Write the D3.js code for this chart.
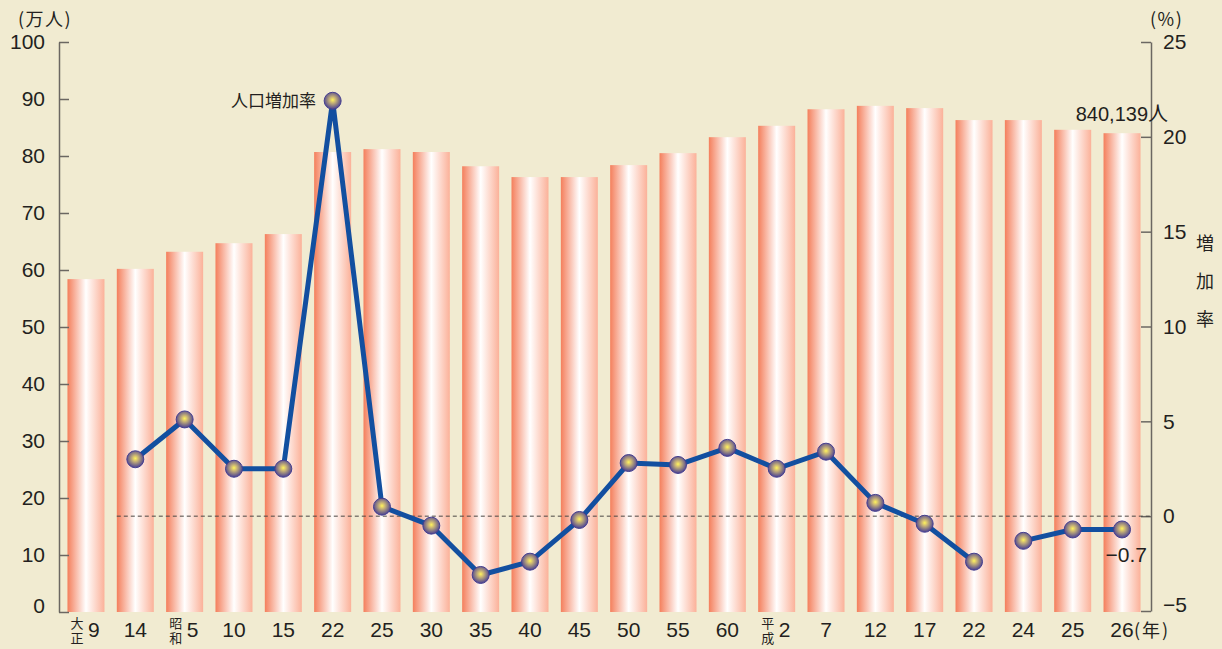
<!DOCTYPE html>
<html>
<head>
<meta charset="utf-8">
<script src="https://cdn.jsdelivr.net/npm/d3@7"></script>
<style>
  body { margin: 0; background: #f1ebd1; }
  svg { display: block; }
  text { font-family: "Liberation Sans", "Noto Sans CJK JP", sans-serif; fill: #231f20; }
</style>
</head>
<body>
<svg class="chart"></svg>
<script>
const W = 1222;
const H = 649;

// Data
var categories = ["大正9","大正14","昭和5","昭和10","昭和15","昭和22","昭和25","昭和30","昭和35","昭和40","昭和45",
                  "昭和50","昭和55","昭和60","平成2","平成7","平成12","平成17","平成22","平成24","平成25","平成26"];
var eraMarks   = ["大正","","昭和","","","","","","","","","","","","平成","","","","","","",""];
var yearLabels = ["9","14","5","10","15","22","25","30","35","40","45","50","55","60","2","7","12","17","22","24","25","26"];
var population = [58.4,60.2,63.2,64.7,66.3,80.7,81.2,80.7,78.2,76.3,76.3,78.4,80.5,83.3,85.3,88.2,88.8,88.4,86.3,86.3,84.6,84.0]; // 万人
var growthRate = [null,3.0,5.1,2.5,2.5,21.9,0.5,-0.5,-3.1,-2.4,-0.2,2.8,2.7,3.6,2.5,3.4,0.7,-0.4,-2.4,-1.3,-0.7,-0.7]; // %
var rateBreakAfter = "平成22";
var leftTicks  = [0,10,20,30,40,50,60,70,80,90,100];
var rightTicks = [-5,0,5,10,15,20,25];

var svg = d3.select('.chart')
    .attr("width", W)
    .attr("height", H);

var defs = svg.append("defs");
var grad = defs.append("linearGradient").attr("id", "barGrad")
    .attr("x1", "0%").attr("x2", "100%").attr("y1", "0%").attr("y2", "0%");
grad.append("stop").attr("offset", "0%").attr("stop-color", "#f47f5c");
grad.append("stop").attr("offset", "50%").attr("stop-color", "#ffffff");
grad.append("stop").attr("offset", "100%").attr("stop-color", "#fbb199");

var rg = defs.append("radialGradient").attr("id", "dotGrad")
    .attr("cx", "50%").attr("cy", "45%").attr("r", "55%");
rg.append("stop").attr("offset", "0%").attr("stop-color", "#fff45c");
rg.append("stop").attr("offset", "30%").attr("stop-color", "#cdb874");
rg.append("stop").attr("offset", "100%").attr("stop-color", "#463d94");

// Scales
var x = d3.scaleBand()
    .domain(categories)
    .range([61.3, 1146.7])
    .paddingInner(0.25)
    .paddingOuter(0.125);
var yL = d3.scaleLinear().domain([0, 100]).range([612, 42]);
var yR = d3.scaleLinear().domain([-5, 25]).range([611, 42]);

// Bars
svg.append("g").selectAll("rect")
    .data(categories)
    .enter().append("rect")
    .attr("x", d => x(d))
    .attr("width", x.bandwidth())
    .attr("y", (d, i) => yL(population[i]))
    .attr("height", (d, i) => yL(0) - yL(population[i]))
    .attr("fill", "url(#barGrad)");

// Axes
function fmt(d) { return d < 0 ? "\u2212" + Math.abs(d) : d; }

var axL = svg.append("g")
    .attr("transform", "translate(59,0)")
    .call(d3.axisLeft(yL).tickValues(leftTicks).tickSizeInner(-10).tickSizeOuter(0).tickPadding(14));
var axR = svg.append("g")
    .attr("transform", "translate(1151,0)")
    .call(d3.axisRight(yR).tickValues(rightTicks).tickFormat(fmt).tickSizeInner(-10).tickSizeOuter(0).tickPadding(12));
[axL, axR].forEach(function(a) {
    a.select(".domain").attr("stroke", "#6b6762").attr("stroke-width", 1.5);
    a.selectAll(".tick line").attr("stroke", "#6b6762").attr("stroke-width", 1.5);
    a.selectAll(".tick text").style("font-size", "21px").style("fill", "#231f20")
        .style("font-family", "'Liberation Sans', sans-serif");
});
// bottom labels sit a little above the end of the axis
axL.selectAll(".tick text").filter(d => d === 0).attr("dy", "-0.0em");
axR.selectAll(".tick text").filter(d => d === -5).attr("dy", "-0.0em");

// Zero line
svg.append("line")
    .attr("x1", x("大正14")).attr("x2", 1151)
    .attr("y1", yR(0)).attr("y2", yR(0))
    .attr("stroke", "#4a4744").attr("stroke-width", 1)
    .attr("stroke-dasharray", "4,3");

// X labels
var xl = svg.append("g").selectAll("g")
    .data(categories)
    .enter().append("g")
    .attr("transform", d => "translate(" + (x(d) + x.bandwidth() / 2) + ",0)");
xl.append("text")
    .attr("x", (d, i) => eraMarks[i] ? 8 : 0)
    .attr("y", 637)
    .attr("text-anchor", "middle")
    .style("font-size", "21px")
    .text((d, i) => yearLabels[i]);
xl.filter((d, i) => eraMarks[i]).each(function(d) {
    var i = categories.indexOf(d);
    var g = d3.select(this);
    g.append("text").attr("x", -9).attr("y", 628).attr("text-anchor", "middle")
        .style("font-size", "13px").text(eraMarks[i][0]);
    g.append("text").attr("x", -9).attr("y", 643).attr("text-anchor", "middle")
        .style("font-size", "13px").text(eraMarks[i][1]);
});
svg.append("text")
    .attr("x", 1134).attr("y", 637)
    .style("font-size", "18px")
    .style("letter-spacing", "2px")
    .style("font-family", "'Noto Sans CJK JP', sans-serif")
    .text("(年)");

// Rate line
var pts = categories.map((d, i) => ({ c: d, v: growthRate[i] })).filter(p => p.v !== null);
var cut = pts.findIndex(p => p.c === rateBreakAfter) + 1;
var line = d3.line()
    .x(p => x(p.c) + x.bandwidth() / 2)
    .y(p => yR(p.v));
svg.append("g").selectAll("path")
    .data([pts.slice(0, cut), pts.slice(cut)])
    .enter().append("path")
    .attr("d", line)
    .attr("fill", "none")
    .attr("stroke", "#124fa0")
    .attr("stroke-width", 5)
    .attr("stroke-linejoin", "round");
svg.append("g").selectAll("circle")
    .data(pts)
    .enter().append("circle")
    .attr("cx", p => x(p.c) + x.bandwidth() / 2)
    .attr("cy", p => yR(p.v))
    .attr("r", 8.5)
    .attr("fill", "url(#dotGrad)")
    .attr("stroke", "#463f8e")
    .attr("stroke-width", 1);

// Titles and annotations
var jp = "'Noto Sans CJK JP', sans-serif";
svg.append("text").attr("x", 18).attr("y", 26).style("font-size", "18px").style("letter-spacing", "1.5px")
    .style("font-family", jp).text("(万人)");
svg.append("text").attr("x", 1150).attr("y", 26).style("font-size", "18px").style("letter-spacing", "1.5px")
    .style("font-family", jp).text("(%)");
["増","加","率"].forEach(function(c, i) {
    svg.append("text").attr("x", 1205).attr("y", 250 + i * 38)
        .attr("text-anchor", "middle").style("font-size", "18px").style("font-family", jp).text(c);
});
svg.append("text").attr("x", 316).attr("y", 107).attr("text-anchor", "end")
    .style("font-size", "17px").style("font-family", jp).text("人口増加率");
svg.append("text").attr("x", 1168).attr("y", 121).attr("text-anchor", "end")
    .style("font-size", "20px").text("840,139人");
svg.append("text").attr("x", 1147).attr("y", 562).attr("text-anchor", "end")
    .style("font-size", "21px").text("\u22120.7");
</script>
</body>
</html>
